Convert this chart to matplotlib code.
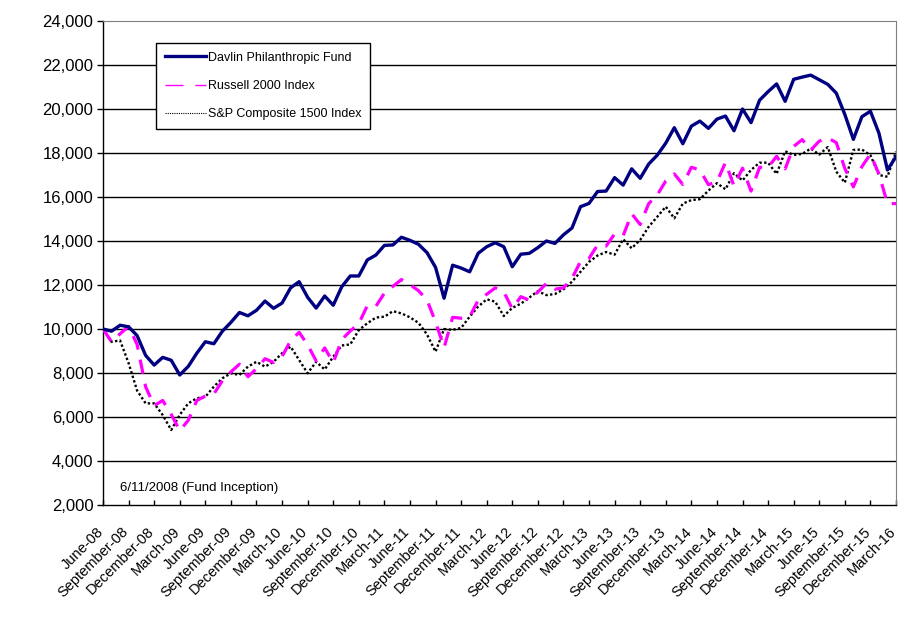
import matplotlib
matplotlib.use("Agg")
import matplotlib.pyplot as plt
from matplotlib.lines import Line2D
from matplotlib.ticker import FuncFormatter
from matplotlib.transforms import ScaledTranslation

plt.rcParams["font.family"] = ["Liberation Sans", "DejaVu Sans"]

# monthly values, June-08 .. March-16 (94 points)
fund = [
    10000, 9900, 10170, 10100, 9700, 8800, 8360, 8710, 8580, 7910,
    8300, 8900, 9420, 9330, 9900, 10300, 10750, 10600, 10850, 11270,
    10940, 11180, 11870, 12150, 11440, 10950, 11500, 11080, 11920, 12410,
    12410, 13140, 13360, 13800, 13820, 14170, 14030, 13850, 13470, 12800,
    11400, 12900, 12770, 12600, 13440, 13740, 13920, 13740, 12830, 13400,
    13440, 13700, 14000, 13890, 14280, 14590, 15560, 15710, 16250, 16270,
    16880, 16540, 17280, 16850, 17500, 17900, 18450, 19150, 18420, 19220,
    19450, 19120, 19540, 19680, 19010, 20000, 19380, 20400, 20790, 21140,
    20350, 21350, 21450, 21540, 21330, 21120, 20720, 19750, 18620, 19650,
    19900, 18900, 17230, 17830,
]
russell = [
    10000, 9420, 9780, 10120, 9300, 7370, 6520, 6750, 6120, 5380,
    5850, 6750, 6950, 7050, 7650, 8050, 8400, 7830, 8200, 8650,
    8480, 8750, 9470, 9850, 9280, 8550, 9140, 8470, 9520, 9910,
    10250, 11060, 11030, 11630, 11940, 12250, 12020, 11740, 11320, 10320,
    9150, 10530, 10490, 10560, 11310, 11580, 11870, 11690, 10920, 11470,
    11310, 11680, 12070, 11810, 11870, 12300, 13070, 13210, 13820, 13770,
    14320, 14240, 15240, 14750, 15700, 16090, 16730, 17050, 16570, 17350,
    17230, 16560, 16690, 17570, 16500, 17310, 16270, 17350, 17350, 17850,
    17280, 18300, 18610, 18130, 18540, 18690, 18470, 17300, 16460, 17380,
    17950, 17050, 15700, 15700,
]
sp1500 = [
    10000, 9420, 9480, 8450, 7200, 6620, 6620, 6090, 5410, 6100,
    6620, 6850, 6920, 7380, 7760, 7990, 7910, 8290, 8510, 8290,
    8510, 8900, 9200, 8590, 7990, 8510, 8160, 8740, 9250, 9300,
    9950, 10260, 10520, 10560, 10810, 10710, 10530, 10280, 9750, 8970,
    10000, 9960, 10050, 10560, 11020, 11350, 11240, 10590, 10960, 11150,
    11430, 11720, 11540, 11590, 11800, 12150, 12600, 13050, 13340, 13500,
    13380, 14080, 13670, 14050, 14650, 15100, 15560, 15030, 15700, 15860,
    15900, 16290, 16630, 16350, 17080, 16750, 17230, 17560, 17560, 17050,
    18080, 17910, 17960, 18200, 17930, 18270, 17150, 16650, 18140, 18160,
    17900, 17000, 16920, 18060,
]

tick_labels = [
    "June-08", "September-08", "December-08",
    "March-09", "June-09", "September-09", "December-09",
    "March-10", "June-10", "September-10", "December-10",
    "March-11", "June-11", "September-11", "December-11",
    "March-12", "June-12", "September-12", "December-12",
    "March-13", "June-13", "September-13", "December-13",
    "March-14", "June-14", "September-14", "December-14",
    "March-15", "June-15", "September-15", "December-15",
    "March-16",
]
y_ticks = list(range(2000, 24001, 2000))

NAVY = "#000080"
MAGENTA = "#FF00FF"

fig = plt.figure(figsize=(9.10, 6.21), dpi=100)
ax = fig.add_axes([103 / 910, 1 - 505 / 621, 793 / 910, 484 / 621])

x = list(range(len(fund)))

# horizontal gridlines (top one is the dashed plot border)
for v in y_ticks[1:-1]:
    ax.axhline(v, color="black", lw=1.0, zorder=1)

ax.plot(x, sp1500, color="black", lw=1.7, ls=(0, (1, 1)), zorder=3)
ax.plot(x, russell, color=MAGENTA, lw=2.3, ls=(0, (4.5, 3.2)), zorder=4)
ax.plot(x, fund, color=NAVY, lw=2.4, zorder=5)

ax.set_xlim(0, len(fund) - 1)
ax.set_ylim(y_ticks[0], y_ticks[-1])
ax.set_yticks(y_ticks)
ax.yaxis.set_major_formatter(FuncFormatter(lambda v, p: f"{int(v):,}"))
ax.set_xticks(range(0, len(fund), 3))
ax.set_xticklabels(tick_labels, rotation=45, ha="right", va="top",
                   rotation_mode="anchor")

ax.tick_params(axis="y", direction="out", length=4, width=1, labelsize=12,
               pad=3)
ax.tick_params(axis="x", direction="in", length=3.5, width=1, labelsize=10.5,
               pad=14)

shift = ScaledTranslation(-7 / 100, 0, fig.dpi_scale_trans)
for lab in ax.get_xticklabels():
    lab.set_transform(lab.get_transform() + shift)

for side in ("left", "bottom"):
    ax.spines[side].set_color("black")
    ax.spines[side].set_linewidth(1.0)
for side in ("top", "right"):
    ax.spines[side].set_color("#7f7f7f")
    ax.spines[side].set_linewidth(0.8)
    ax.spines[side].set_linestyle((0, (2, 1)))

ax.text(0.0214, 0.035, "6/11/2008 (Fund Inception)", transform=ax.transAxes,
        fontsize=9.5, va="center", ha="left")

handles = [
    Line2D([], [], color=NAVY, lw=2.4),
    Line2D([], [], color=MAGENTA, lw=1.0, ls=(0, (13, 8.5))),
    Line2D([], [], color="black", lw=0.8, ls=(0, (1, 1))),
]
labels = ["Davlin Philanthropic Fund", "Russell 2000 Index",
          "S&P Composite 1500 Index"]
leg = ax.legend(handles, labels, loc="upper left",
                bbox_to_anchor=(156 / 910, 1 - 43 / 621),
                bbox_transform=fig.transFigure, borderaxespad=0,
                fancybox=False, edgecolor="black", framealpha=1,
                fontsize=9, handlelength=3.3, handletextpad=0.15,
                labelspacing=1.3, borderpad=0.7)
leg.get_frame().set_linewidth(1.0)
leg.set_zorder(10)

fig.savefig("out.png", dpi=100)
